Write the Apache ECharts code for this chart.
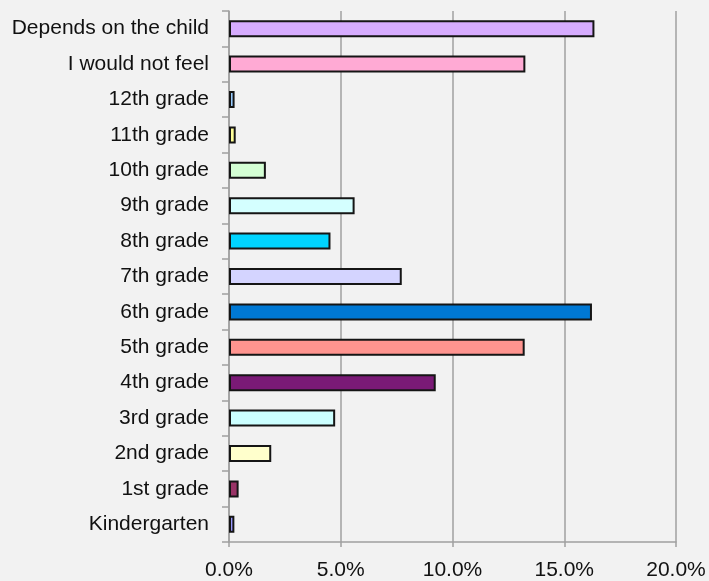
<!DOCTYPE html>
<html>
<head>
<meta charset="utf-8">
<script src="https://cdn.jsdelivr.net/npm/echarts@6/dist/echarts.min.js"></script>
<style>
html,body{margin:0;padding:0;background:#f2f2f2;}
#chart{width:709px;height:581px;}
</style>
</head>
<body>
<div id="chart"></div>
<script>
const categories = ["Kindergarten","1st grade","2nd grade","3rd grade","4th grade","5th grade","6th grade","7th grade","8th grade","9th grade","10th grade","11th grade","12th grade","I would not feel","Depends on the child"];
const values = [0.24, 0.43, 1.89, 4.75, 9.25, 13.23, 16.24, 7.73, 4.54, 5.62, 1.65, 0.30, 0.25, 13.26, 16.35];
const colors = ["#9999ff","#993366","#ffffcc","#ccffff","#7a1a76","#ff948f","#0078d4","#d4d4ff","#00d4ff","#d4ffff","#d4ffd4","#ffff99","#99ccff","#ffaad4","#d6acfe"];
const xTicks = [0, 5, 10, 15, 20];

const chart = echarts.init(document.getElementById('chart'));
chart.setOption({
  backgroundColor: '#f2f2f2',
  animation: false,
  grid: {left: 229, right: 33, top: 11, bottom: 38, containLabel: false},
  xAxis: {
    type: 'value', min: xTicks[0], max: xTicks[xTicks.length-1], interval: 5,
    axisLine: {show: true, lineStyle: {color: '#a0a0a0', width: 1.5}},
    axisTick: {show: true, length: 5, lineStyle: {color: '#a0a0a0', width: 1.5}},
    splitLine: {show: true, lineStyle: {color: '#a0a0a0', width: 1.5}},
    axisLabel: {formatter: v => v.toFixed(1) + '%', color: '#111', fontSize: 21, fontFamily: 'Liberation Sans, Arial, sans-serif', margin: 18}
  },
  yAxis: {
    type: 'category', data: categories,
    axisLine: {show: true, lineStyle: {color: '#a0a0a0', width: 1.5}},
    axisTick: {show: true, length: 7, lineStyle: {color: '#a0a0a0', width: 1.5}},
    axisLabel: {color: '#111', fontSize: 21, fontFamily: 'Liberation Sans, Arial, sans-serif', margin: 20}
  },
  series: [{
    type: 'bar',
    barWidth: 17,
    data: values.map((v, i) => ({value: v, itemStyle: {color: colors[i]}})),
    itemStyle: {borderColor: '#151515', borderWidth: 2}
  }]
});
</script>
</body>
</html>
